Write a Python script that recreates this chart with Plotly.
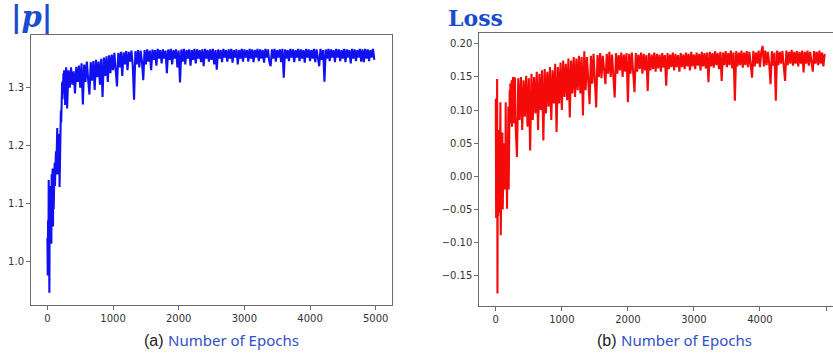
import plotly.graph_objects as go

# Epoch grid: fine sampling over the fast early transient, coarser afterwards
epochs_early = list(range(0, 300, 5))
epochs_late = list(range(300, 5000, 20))
epochs = epochs_early + epochs_late

# |p| per epoch
p_norm = [
    1.04, 0.975, 1.07, 1.0, 1.14, 0.96, 0.945, 1.10, 1.03, 1.13,
    1.04, 1.12, 1.03, 1.15, 1.06, 1.14, 1.16, 1.06, 1.15, 1.09,
    1.16, 1.12, 1.17, 1.13, 1.18, 1.14, 1.19, 1.15, 1.22, 1.17,
    1.23, 1.16, 1.21, 1.15, 1.22, 1.17, 1.20, 1.128, 1.19, 1.23,
    1.22, 1.26, 1.24, 1.29, 1.27, 1.31, 1.28, 1.32, 1.30, 1.325,
    1.29, 1.33, 1.30, 1.325, 1.27, 1.33, 1.305, 1.335, 1.30, 1.33,
    1.264, 1.33, 1.30, 1.335, 1.305, 1.328, 1.29, 1.336, 1.31, 1.338,
    1.30, 1.342, 1.271, 1.34, 1.31, 1.345, 1.315, 1.288, 1.344, 1.312,
    1.346, 1.296, 1.348, 1.318, 1.345, 1.305, 1.35, 1.284, 1.352, 1.32,
    1.354, 1.31, 1.356, 1.325, 1.357, 1.33, 1.36, 1.32, 1.302, 1.36,
    1.335, 1.362, 1.32, 1.361, 1.34, 1.363, 1.33, 1.362, 1.345, 1.364,
    1.338, 1.279, 1.363, 1.34, 1.365, 1.335, 1.364, 1.345, 1.313, 1.365,
    1.34, 1.366, 1.345, 1.364, 1.33, 1.366, 1.348, 1.365, 1.338, 1.367,
    1.35, 1.365, 1.342, 1.366, 1.35, 1.364, 1.325, 1.366, 1.348, 1.367,
    1.34, 1.365, 1.35, 1.366, 1.335, 1.364, 1.309, 1.366, 1.345, 1.367,
    1.34, 1.365, 1.35, 1.366, 1.338, 1.365, 1.348, 1.367, 1.342, 1.366,
    1.35, 1.365, 1.344, 1.366, 1.337, 1.367, 1.35, 1.365, 1.345, 1.366,
    1.348, 1.367, 1.34, 1.365, 1.331, 1.366, 1.35, 1.365, 1.344, 1.367,
    1.352, 1.365, 1.345, 1.366, 1.35, 1.367, 1.343, 1.365, 1.352, 1.366,
    1.34, 1.365, 1.35, 1.367, 1.345, 1.366, 1.352, 1.365, 1.345, 1.367,
    1.35, 1.366, 1.344, 1.365, 1.352, 1.367, 1.346, 1.366, 1.35, 1.365,
    1.343, 1.367, 1.352, 1.366, 1.345, 1.337, 1.366, 1.35, 1.367, 1.345,
    1.365, 1.352, 1.366, 1.344, 1.367, 1.317, 1.366, 1.35, 1.365, 1.346,
    1.367, 1.352, 1.366, 1.344, 1.365, 1.352, 1.367, 1.346, 1.366, 1.35,
    1.365, 1.343, 1.367, 1.352, 1.366, 1.346, 1.365, 1.35, 1.367, 1.344,
    1.366, 1.352, 1.337, 1.367, 1.348, 1.365, 1.31, 1.366, 1.35, 1.367,
    1.346, 1.366, 1.352, 1.365, 1.344, 1.367, 1.352, 1.366, 1.346, 1.365,
    1.35, 1.367, 1.344, 1.366, 1.352, 1.365, 1.342, 1.367, 1.35, 1.366,
    1.346, 1.365, 1.352, 1.367, 1.345, 1.366, 1.344, 1.367, 1.35, 1.366,
    1.346, 1.365, 1.352, 1.367, 1.348,
]

# Loss per epoch
loss = [
    0.117, -0.063, 0.02, -0.04, 0.147, -0.177, 0.03, -0.06, 0.07, -0.03,
    0.05, -0.055, 0.04, -0.02, 0.112, -0.089, 0.03, -0.04, 0.05, -0.01,
    0.066, -0.05, 0.04, -0.03, 0.05, -0.01, 0.045, -0.02, 0.05, 0.0,
    0.112, -0.01, 0.04, -0.02, -0.049, 0.03, 0.0, 0.05, 0.105, -0.02,
    0.08, 0.01, 0.13, 0.09, 0.14, 0.08, 0.135, 0.09, 0.145, 0.075,
    0.14, 0.085, 0.15, 0.08, 0.145, 0.095, 0.15, 0.08, 0.148, 0.09,
    0.08, 0.029, 0.148, 0.085, 0.15, 0.07, 0.145, 0.09, 0.152, 0.075,
    0.148, 0.039, 0.155, 0.085, 0.15, 0.095, 0.158, 0.07, 0.155, 0.10,
    0.16, 0.054, 0.162, 0.095, 0.158, 0.105, 0.165, 0.085, 0.16, 0.11,
    0.17, 0.067, 0.165, 0.11, 0.172, 0.10, 0.175, 0.12, 0.17, 0.115,
    0.178, 0.089, 0.175, 0.125, 0.18, 0.12, 0.178, 0.13, 0.182, 0.125,
    0.18, 0.092, 0.189, 0.13, 0.18, 0.135, 0.109, 0.182, 0.14, 0.185,
    0.145, 0.104, 0.183, 0.15, 0.186, 0.148, 0.182, 0.155, 0.139, 0.185,
    0.155, 0.188, 0.15, 0.184, 0.158, 0.119, 0.186, 0.155, 0.183, 0.16,
    0.187, 0.15, 0.184, 0.158, 0.186, 0.112, 0.185, 0.155, 0.187, 0.16,
    0.127, 0.186, 0.158, 0.184, 0.162, 0.187, 0.155, 0.185, 0.16, 0.183,
    0.129, 0.186, 0.16, 0.184, 0.162, 0.187, 0.158, 0.185, 0.163, 0.184,
    0.158, 0.186, 0.164, 0.183, 0.137, 0.186, 0.162, 0.184, 0.165, 0.187,
    0.16, 0.185, 0.165, 0.183, 0.158, 0.186, 0.165, 0.184, 0.162, 0.187,
    0.166, 0.185, 0.16, 0.188, 0.166, 0.184, 0.162, 0.187, 0.167, 0.185,
    0.16, 0.188, 0.166, 0.186, 0.163, 0.187, 0.142, 0.188, 0.166, 0.186,
    0.164, 0.189, 0.168, 0.186, 0.162, 0.188, 0.144, 0.187, 0.168, 0.189,
    0.165, 0.186, 0.168, 0.19, 0.163, 0.187, 0.114, 0.189, 0.166, 0.187,
    0.168, 0.19, 0.164, 0.187, 0.168, 0.189, 0.165, 0.188, 0.168, 0.149,
    0.189, 0.166, 0.187, 0.17, 0.19, 0.165, 0.188, 0.197, 0.166, 0.19,
    0.168, 0.188, 0.17, 0.139, 0.189, 0.167, 0.187, 0.114, 0.19, 0.168,
    0.188, 0.17, 0.189, 0.166, 0.144, 0.19, 0.168, 0.188, 0.17, 0.191,
    0.167, 0.188, 0.17, 0.189, 0.166, 0.188, 0.17, 0.19, 0.157, 0.188,
    0.17, 0.19, 0.167, 0.188, 0.171, 0.158, 0.189, 0.17, 0.188, 0.168,
    0.19, 0.17, 0.187, 0.166, 0.185,
]

x_ticks = [0, 1000, 2000, 3000, 4000, 5000]
p_ticks = [1.0, 1.1, 1.2, 1.3]
loss_ticks = [-0.15, -0.10, -0.05, 0.00, 0.05, 0.10, 0.15, 0.20]

W, H = 833, 356
TITLE_BLUE = "#1a4bd0"
LABEL_BLUE = "#3050c8"
FRAME = "#6b6b6b"

fig = go.Figure()
fig.add_trace(go.Scatter(x=epochs, y=p_norm, mode="lines",
                         line=dict(color="#1010f0", width=2.1),
                         xaxis="x", yaxis="y", showlegend=False))
fig.add_trace(go.Scatter(x=epochs, y=loss, mode="lines",
                         line=dict(color="#f50a0a", width=2.1),
                         xaxis="x2", yaxis="y2", showlegend=False))

tick_font = dict(family="DejaVu Sans", size=10, color="#333333")
axis_common = dict(showgrid=False, zeroline=False, showline=True,
                   linecolor=FRAME, linewidth=1, ticks="outside",
                   ticklen=4, tickwidth=1, tickcolor=FRAME,
                   tickfont=tick_font)

def px_x(v):
    return v / W

def px_y(v):
    return 1 - v / H

fig.update_layout(
    width=W, height=H,
    margin=dict(l=0, r=0, t=0, b=0),
    paper_bgcolor="white", plot_bgcolor="white",
    xaxis=dict(domain=[px_x(31), px_x(392)], range=[-250, 5249],
               tickvals=x_ticks, mirror=True, anchor="y", **axis_common),
    yaxis=dict(domain=[px_y(305), px_y(35)], range=[0.924, 1.391],
               tickvals=p_ticks, tickformat=".1f", mirror=True,
               anchor="x", **axis_common),
    xaxis2=dict(domain=[px_x(479.3), 1.0], range=[-250, 5106],
                tickvals=x_ticks, mirror=True, anchor="y2", **axis_common),
    yaxis2=dict(domain=[px_y(306), px_y(33.3)], range=[-0.196, 0.216],
                tickvals=loss_ticks, tickformat=".2f", mirror=False,
                anchor="x2", **axis_common),
)

label_span = ("<span style='font-family:Noto Sans;font-size:15px;"
              "color:%s'>Number of Epochs</span>" % LABEL_BLUE)
annotations = [
    dict(text="<b>|<i>p</i>|</b>", x=px_x(32), y=px_y(17),
         font=dict(family="DejaVu Serif", size=29, color=TITLE_BLUE)),
    dict(text="<b>Loss</b>", x=px_x(475), y=px_y(18),
         font=dict(family="DejaVu Serif", size=22, color=TITLE_BLUE)),
    dict(text="(a) " + label_span, x=px_x(221.5), y=px_y(340),
         font=dict(family="Liberation Sans", size=16, color="#222222")),
    dict(text="(b) " + label_span, x=px_x(674.5), y=px_y(340),
         font=dict(family="Liberation Sans", size=16, color="#222222")),
]
for a in annotations:
    fig.add_annotation(xref="paper", yref="paper", xanchor="center",
                       yanchor="middle", showarrow=False, **a)

fig.write_html("out.html")
